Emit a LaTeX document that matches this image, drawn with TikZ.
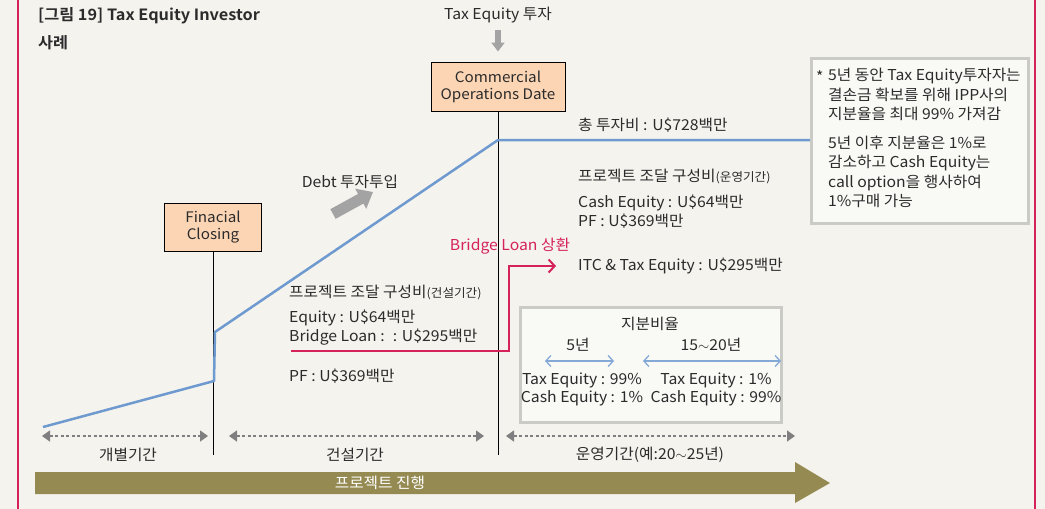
\documentclass[tikz,border=0pt]{standalone}
\usepackage{fontspec}
\setmainfont{Noto Sans CJK KR}[BoldFont={Noto Sans CJK KR Bold}, FakeStretch=1.05]
\usetikzlibrary{arrows.meta}
\definecolor{bg}{HTML}{F4F3EE}
\definecolor{frame}{HTML}{D6225B}
\definecolor{peach}{HTML}{FCD5B5}
\definecolor{lineblue}{HTML}{6F9AD0}
\definecolor{olive}{HTML}{958A52}
\definecolor{arrowgray}{HTML}{A3A3A3}
\definecolor{dashgray}{HTML}{7F7F7F}
\definecolor{boxborder}{HTML}{CACAC6}
\definecolor{boxfill}{HTML}{F9F9F6}
\definecolor{txt}{HTML}{2B2B2B}
\tikzset{
  lbl/.style={font=\fontsize{15}{18}\selectfont, text=txt, inner sep=0pt},
  peachbox/.style={draw=black, line width=1, fill=peach, align=center, font=\fontsize{14.5}{19}\selectfont, text=txt},
  graybox/.style={draw=boxborder, line width=2.5, fill=boxfill},
  blueline/.style={draw=lineblue, line width=2.5, line join=round},
  vline/.style={draw=black, line width=1},
  fatarrow/.style={draw=arrowgray, line width=6, -{Triangle[width=13,length=9]}},
  debtarrow/.style={draw=arrowgray, line width=11, -{Triangle[width=22,length=14]}},
  redarrow/.style={draw=frame, line width=2, -{Straight Barb[length=6,width=13,line width=2]}},
  dbl/.style={draw=lineblue!85, line width=1.3, {Straight Barb[length=5,width=11]}-{Straight Barb[length=5,width=11]}},
  period/.style={draw=dashgray, line width=1.4, dash pattern=on 3pt off 2.5pt, {Triangle[width=11,length=8]}-{Triangle[width=11,length=8]}},
}
\newcommand{\paren}[1]{{\fontsize{12}{14}\selectfont #1}}
\begin{document}
\begin{tikzpicture}[x=1pt,y=-1pt]
\fill[bg] (0,0) rectangle (1045,509);
\useasboundingbox (0,0) rectangle (1045,509);
% frame lines
\draw[frame, line width=2.5] (18,-2) -- (18,511);
\draw[frame, line width=2.5] (1035,-2) -- (1035,511);

% title
\node[lbl, anchor=west, font=\bfseries\fontsize{15.5}{18}\selectfont] (title1) at (38,16) {[그림 19] Tax Equity Investor};
\node[lbl, anchor=west, font=\bfseries\fontsize{15.5}{18}\selectfont] (title2) at (38,43) {사례};

% COD
\node[lbl] (te) at (498,15) {Tax Equity 투자};
\node[peachbox, minimum width=134, minimum height=49, inner sep=2] (cod) at (498,86.5) {Commercial\\[-2pt]Operations Date};
\draw[fatarrow, shorten <=7, shorten >=10] (te) -- (cod);
\coordinate (codb) at (498,455);
\draw[vline] (cod.south) -- (codb);

% Financial closing
\node[peachbox, minimum width=97, minimum height=48, inner sep=2] (fc) at (213,227) {Finacial\\[-2pt]Closing};
\coordinate (fcb) at (213,455);
\draw[vline] (fc.south) -- (fcb);

% blue investment line
\coordinate (b0) at (43,427);
\coordinate (b1) at (214,381);
\coordinate (b2) at (215,332);
\coordinate (b3) at (498,140);
\coordinate (b4) at (810,140);
\draw[blueline] (b0) -- (b1) -- (b2) -- (b3) -- (b4);

\node[lbl, anchor=west] (total) at (578,125) {총 투자비 : U\$728백만};

% debt
\node[lbl] (debt) at (350,182) {Debt 투자투입};
\coordinate (d0) at (333,214);
\coordinate (d1) at (373,192);
\draw[debtarrow] (d0) -- (d1);

% construction financing
\node[lbl, anchor=west] (cons) at (289,292) {프로젝트 조달 구성비\paren{(건설기간)}};
\node[lbl, anchor=west] (eq) at (289,318) {Equity : U\$64백만};
\node[lbl, anchor=west] (bl) at (289,337) {Bridge Loan :~ : U\$295백만};
\node[lbl, anchor=west] (pf) at (289,376) {PF : U\$369백만};

% operation financing
\node[lbl, anchor=west] (ops) at (578,176) {프로젝트 조달 구성비\paren{(운영기간)}};
\node[lbl, anchor=west] (ce) at (578,203) {Cash Equity : U\$64백만};
\node[lbl, anchor=west] (pf2) at (578,221) {PF : U\$369백만};
\node[lbl, anchor=west] (itc) at (578,266) {ITC \& Tax Equity : U\$295백만};

% bridge loan repayment
\node[lbl, text=frame] (blr) at (510,246) {Bridge Loan 상환};
\coordinate (rs) at (291,351);
\coordinate (rc) at (509,351);
\coordinate (re) at (556,266);
\draw[redarrow] (rs) -- (rc) |- (re);

% share box
\node[graybox, minimum width=261, minimum height=115, anchor=north west, inner sep=0] (share) at (519,306) {};
\node[lbl] (shtitle) at (650,324) {지분비율};
\node[lbl] (y5) at (578,345) {5년};
\node[lbl] (y15) at (711,345) {15$\sim$20년};
\coordinate (a1) at (545,361);
\coordinate (a2) at (614,361);
\coordinate (a3) at (643,361);
\coordinate (a4) at (781,361);
\draw[dbl] (a1) -- (a2);
\draw[dbl] (a3) -- (a4);
\node[lbl] (t1) at (582,380) {Tax Equity : 99\%};
\node[lbl] (c1) at (582,398) {Cash Equity : 1\%};
\node[lbl] (t2) at (716,380) {Tax Equity : 1\%};
\node[lbl] (c2) at (716,398) {Cash Equity : 99\%};

% note box
\node[graybox, minimum width=217, minimum height=165, anchor=north west, inner sep=0] (note) at (810,57) {};
\node[lbl, anchor=west] (star) at (816,77) {*};
\node[lbl, anchor=north west, align=left, font=\fontsize{15}{19.5}\selectfont] (n1) at (828,68) {5년 동안 Tax Equity투자자는\\결손금 확보를 위해 IPP사의\\지분율을 최대 99\% 가져감};
\node[lbl, anchor=north west, align=left, font=\fontsize{15}{19.2}\selectfont] (n2) at (828,136) {5년 이후 지분율은 1\%로\\감소하고 Cash Equity는\\call option을 행사하여\\1\%구매 가능};

% periods
\coordinate (p1a) at (42,436);
\coordinate (p1b) at (208,436);
\coordinate (p2a) at (229,436);
\coordinate (p2b) at (484,436);
\coordinate (p3a) at (506,436);
\coordinate (p3b) at (795,436);
\draw[period] (p1a) -- (p1b);
\draw[period] (p2a) -- (p2b);
\draw[period] (p3a) -- (p3b);
\node[lbl] (l1) at (128,455) {개별기간};
\node[lbl] (l2) at (355,455) {건설기간};
\node[lbl] (l3) at (650,455) {운영기간(예:20$\sim$25년)};

% progress arrow
\fill[olive] (35,472) -- (795,472) -- (795,462) -- (830,483) -- (795,503) -- (795,494) -- (35,494) -- cycle;
\node[lbl, text=white] (prog) at (380,483) {프로젝트 진행};
\end{tikzpicture}
\end{document}
